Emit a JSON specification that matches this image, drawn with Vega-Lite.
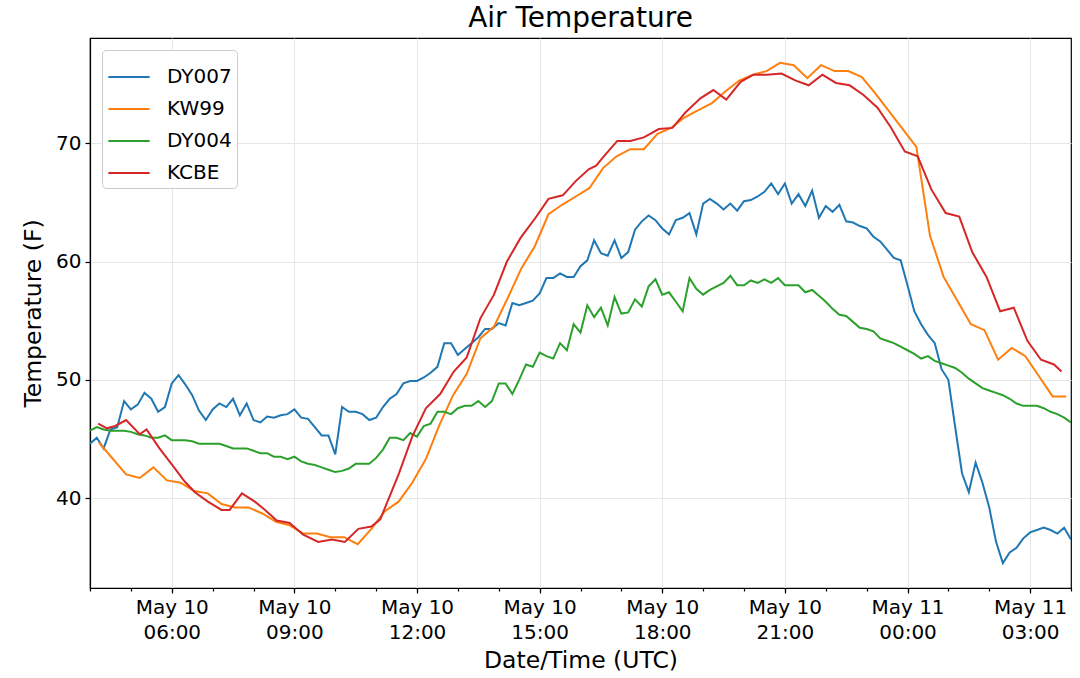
{
  "$schema": "https://vega.github.io/schema/vega-lite/v6.json",
  "width": 981,
  "height": 550,
  "autosize": {"type": "none"},
  "padding": {"left": 90, "top": 38, "right": 9, "bottom": 90},
  "background": "white",
  "title": {"text": "Air Temperature", "fontSize": 28, "font": "DejaVu Sans", "fontWeight": "normal", "color": "black", "anchor": "middle", "offset": 5},
  "config": {
    "view": {"stroke": "black", "strokeWidth": 1.2},
    "axis": {
      "labelFont": "DejaVu Sans", "titleFont": "DejaVu Sans",
      "labelFontSize": 20, "titleFontSize": 23.5, "titleFontWeight": "normal",
      "labelColor": "black", "titleColor": "black",
      "domainColor": "black", "domainWidth": 1.2, "tickColor": "black", "tickWidth": 1.2,
      "gridColor": "#e6e6e6", "gridWidth": 1
    }
  },
  "data": {
    "values": [
      {"station": "DY007", "time": "2019-05-10T04:00:00Z", "temp": 44.6},
      {"station": "DY007", "time": "2019-05-10T04:10:00Z", "temp": 45.1},
      {"station": "DY007", "time": "2019-05-10T04:20:00Z", "temp": 44.2},
      {"station": "DY007", "time": "2019-05-10T04:30:00Z", "temp": 45.8},
      {"station": "DY007", "time": "2019-05-10T04:40:00Z", "temp": 46.0},
      {"station": "DY007", "time": "2019-05-10T04:50:00Z", "temp": 48.2},
      {"station": "DY007", "time": "2019-05-10T05:00:00Z", "temp": 47.5},
      {"station": "DY007", "time": "2019-05-10T05:10:00Z", "temp": 47.9},
      {"station": "DY007", "time": "2019-05-10T05:20:00Z", "temp": 48.9},
      {"station": "DY007", "time": "2019-05-10T05:30:00Z", "temp": 48.4},
      {"station": "DY007", "time": "2019-05-10T05:40:00Z", "temp": 47.3},
      {"station": "DY007", "time": "2019-05-10T05:50:00Z", "temp": 47.7},
      {"station": "DY007", "time": "2019-05-10T06:00:00Z", "temp": 49.7},
      {"station": "DY007", "time": "2019-05-10T06:10:00Z", "temp": 50.4},
      {"station": "DY007", "time": "2019-05-10T06:20:00Z", "temp": 49.6},
      {"station": "DY007", "time": "2019-05-10T06:30:00Z", "temp": 48.7},
      {"station": "DY007", "time": "2019-05-10T06:40:00Z", "temp": 47.4},
      {"station": "DY007", "time": "2019-05-10T06:50:00Z", "temp": 46.6},
      {"station": "DY007", "time": "2019-05-10T07:00:00Z", "temp": 47.5},
      {"station": "DY007", "time": "2019-05-10T07:10:00Z", "temp": 48.0},
      {"station": "DY007", "time": "2019-05-10T07:20:00Z", "temp": 47.7},
      {"station": "DY007", "time": "2019-05-10T07:30:00Z", "temp": 48.4},
      {"station": "DY007", "time": "2019-05-10T07:40:00Z", "temp": 47.0},
      {"station": "DY007", "time": "2019-05-10T07:50:00Z", "temp": 48.0},
      {"station": "DY007", "time": "2019-05-10T08:00:00Z", "temp": 46.6},
      {"station": "DY007", "time": "2019-05-10T08:10:00Z", "temp": 46.4},
      {"station": "DY007", "time": "2019-05-10T08:20:00Z", "temp": 46.9},
      {"station": "DY007", "time": "2019-05-10T08:30:00Z", "temp": 46.8},
      {"station": "DY007", "time": "2019-05-10T08:40:00Z", "temp": 47.0},
      {"station": "DY007", "time": "2019-05-10T08:50:00Z", "temp": 47.1},
      {"station": "DY007", "time": "2019-05-10T09:00:00Z", "temp": 47.5},
      {"station": "DY007", "time": "2019-05-10T09:10:00Z", "temp": 46.8},
      {"station": "DY007", "time": "2019-05-10T09:20:00Z", "temp": 46.7},
      {"station": "DY007", "time": "2019-05-10T09:30:00Z", "temp": 46.0},
      {"station": "DY007", "time": "2019-05-10T09:40:00Z", "temp": 45.3},
      {"station": "DY007", "time": "2019-05-10T09:50:00Z", "temp": 45.3},
      {"station": "DY007", "time": "2019-05-10T10:00:00Z", "temp": 43.7},
      {"station": "DY007", "time": "2019-05-10T10:10:00Z", "temp": 47.7},
      {"station": "DY007", "time": "2019-05-10T10:20:00Z", "temp": 47.3},
      {"station": "DY007", "time": "2019-05-10T10:30:00Z", "temp": 47.3},
      {"station": "DY007", "time": "2019-05-10T10:40:00Z", "temp": 47.1},
      {"station": "DY007", "time": "2019-05-10T10:50:00Z", "temp": 46.6},
      {"station": "DY007", "time": "2019-05-10T11:00:00Z", "temp": 46.8},
      {"station": "DY007", "time": "2019-05-10T11:10:00Z", "temp": 47.7},
      {"station": "DY007", "time": "2019-05-10T11:20:00Z", "temp": 48.4},
      {"station": "DY007", "time": "2019-05-10T11:30:00Z", "temp": 48.8},
      {"station": "DY007", "time": "2019-05-10T11:40:00Z", "temp": 49.7},
      {"station": "DY007", "time": "2019-05-10T11:50:00Z", "temp": 49.9},
      {"station": "DY007", "time": "2019-05-10T12:00:00Z", "temp": 49.9},
      {"station": "DY007", "time": "2019-05-10T12:10:00Z", "temp": 50.2},
      {"station": "DY007", "time": "2019-05-10T12:20:00Z", "temp": 50.6},
      {"station": "DY007", "time": "2019-05-10T12:30:00Z", "temp": 51.1},
      {"station": "DY007", "time": "2019-05-10T12:40:00Z", "temp": 53.1},
      {"station": "DY007", "time": "2019-05-10T12:50:00Z", "temp": 53.1},
      {"station": "DY007", "time": "2019-05-10T13:00:00Z", "temp": 52.1},
      {"station": "DY007", "time": "2019-05-10T13:10:00Z", "temp": 52.6},
      {"station": "DY007", "time": "2019-05-10T13:20:00Z", "temp": 53.1},
      {"station": "DY007", "time": "2019-05-10T13:30:00Z", "temp": 53.6},
      {"station": "DY007", "time": "2019-05-10T13:40:00Z", "temp": 54.3},
      {"station": "DY007", "time": "2019-05-10T13:50:00Z", "temp": 54.3},
      {"station": "DY007", "time": "2019-05-10T14:00:00Z", "temp": 54.8},
      {"station": "DY007", "time": "2019-05-10T14:10:00Z", "temp": 54.6},
      {"station": "DY007", "time": "2019-05-10T14:20:00Z", "temp": 56.5},
      {"station": "DY007", "time": "2019-05-10T14:30:00Z", "temp": 56.3},
      {"station": "DY007", "time": "2019-05-10T14:40:00Z", "temp": 56.5},
      {"station": "DY007", "time": "2019-05-10T14:50:00Z", "temp": 56.7},
      {"station": "DY007", "time": "2019-05-10T15:00:00Z", "temp": 57.3},
      {"station": "DY007", "time": "2019-05-10T15:10:00Z", "temp": 58.6},
      {"station": "DY007", "time": "2019-05-10T15:20:00Z", "temp": 58.6},
      {"station": "DY007", "time": "2019-05-10T15:30:00Z", "temp": 59.0},
      {"station": "DY007", "time": "2019-05-10T15:40:00Z", "temp": 58.7},
      {"station": "DY007", "time": "2019-05-10T15:50:00Z", "temp": 58.7},
      {"station": "DY007", "time": "2019-05-10T16:00:00Z", "temp": 59.6},
      {"station": "DY007", "time": "2019-05-10T16:10:00Z", "temp": 60.1},
      {"station": "DY007", "time": "2019-05-10T16:20:00Z", "temp": 61.8},
      {"station": "DY007", "time": "2019-05-10T16:30:00Z", "temp": 60.7},
      {"station": "DY007", "time": "2019-05-10T16:40:00Z", "temp": 60.5},
      {"station": "DY007", "time": "2019-05-10T16:50:00Z", "temp": 61.8},
      {"station": "DY007", "time": "2019-05-10T17:00:00Z", "temp": 60.3},
      {"station": "DY007", "time": "2019-05-10T17:10:00Z", "temp": 60.8},
      {"station": "DY007", "time": "2019-05-10T17:20:00Z", "temp": 62.7},
      {"station": "DY007", "time": "2019-05-10T17:30:00Z", "temp": 63.4},
      {"station": "DY007", "time": "2019-05-10T17:40:00Z", "temp": 63.9},
      {"station": "DY007", "time": "2019-05-10T17:50:00Z", "temp": 63.5},
      {"station": "DY007", "time": "2019-05-10T18:00:00Z", "temp": 62.8},
      {"station": "DY007", "time": "2019-05-10T18:10:00Z", "temp": 62.3},
      {"station": "DY007", "time": "2019-05-10T18:20:00Z", "temp": 63.5},
      {"station": "DY007", "time": "2019-05-10T18:30:00Z", "temp": 63.7},
      {"station": "DY007", "time": "2019-05-10T18:40:00Z", "temp": 64.1},
      {"station": "DY007", "time": "2019-05-10T18:50:00Z", "temp": 62.3},
      {"station": "DY007", "time": "2019-05-10T19:00:00Z", "temp": 64.9},
      {"station": "DY007", "time": "2019-05-10T19:10:00Z", "temp": 65.3},
      {"station": "DY007", "time": "2019-05-10T19:20:00Z", "temp": 64.9},
      {"station": "DY007", "time": "2019-05-10T19:30:00Z", "temp": 64.4},
      {"station": "DY007", "time": "2019-05-10T19:40:00Z", "temp": 64.9},
      {"station": "DY007", "time": "2019-05-10T19:50:00Z", "temp": 64.3},
      {"station": "DY007", "time": "2019-05-10T20:00:00Z", "temp": 65.1},
      {"station": "DY007", "time": "2019-05-10T20:10:00Z", "temp": 65.2},
      {"station": "DY007", "time": "2019-05-10T20:20:00Z", "temp": 65.5},
      {"station": "DY007", "time": "2019-05-10T20:30:00Z", "temp": 65.9},
      {"station": "DY007", "time": "2019-05-10T20:40:00Z", "temp": 66.6},
      {"station": "DY007", "time": "2019-05-10T20:50:00Z", "temp": 65.7},
      {"station": "DY007", "time": "2019-05-10T21:00:00Z", "temp": 66.6},
      {"station": "DY007", "time": "2019-05-10T21:10:00Z", "temp": 64.9},
      {"station": "DY007", "time": "2019-05-10T21:20:00Z", "temp": 65.7},
      {"station": "DY007", "time": "2019-05-10T21:30:00Z", "temp": 64.7},
      {"station": "DY007", "time": "2019-05-10T21:40:00Z", "temp": 66.0},
      {"station": "DY007", "time": "2019-05-10T21:50:00Z", "temp": 63.7},
      {"station": "DY007", "time": "2019-05-10T22:00:00Z", "temp": 64.7},
      {"station": "DY007", "time": "2019-05-10T22:10:00Z", "temp": 64.2},
      {"station": "DY007", "time": "2019-05-10T22:20:00Z", "temp": 64.8},
      {"station": "DY007", "time": "2019-05-10T22:30:00Z", "temp": 63.4},
      {"station": "DY007", "time": "2019-05-10T22:40:00Z", "temp": 63.3},
      {"station": "DY007", "time": "2019-05-10T22:50:00Z", "temp": 63.0},
      {"station": "DY007", "time": "2019-05-10T23:00:00Z", "temp": 62.8},
      {"station": "DY007", "time": "2019-05-10T23:10:00Z", "temp": 62.1},
      {"station": "DY007", "time": "2019-05-10T23:20:00Z", "temp": 61.7},
      {"station": "DY007", "time": "2019-05-10T23:30:00Z", "temp": 61.0},
      {"station": "DY007", "time": "2019-05-10T23:40:00Z", "temp": 60.3},
      {"station": "DY007", "time": "2019-05-10T23:50:00Z", "temp": 60.1},
      {"station": "DY007", "time": "2019-05-11T00:00:00Z", "temp": 58.0},
      {"station": "DY007", "time": "2019-05-11T00:10:00Z", "temp": 55.8},
      {"station": "DY007", "time": "2019-05-11T00:20:00Z", "temp": 54.7},
      {"station": "DY007", "time": "2019-05-11T00:30:00Z", "temp": 53.8},
      {"station": "DY007", "time": "2019-05-11T00:40:00Z", "temp": 53.1},
      {"station": "DY007", "time": "2019-05-11T00:50:00Z", "temp": 50.9},
      {"station": "DY007", "time": "2019-05-11T01:00:00Z", "temp": 50.0},
      {"station": "DY007", "time": "2019-05-11T01:10:00Z", "temp": 46.0},
      {"station": "DY007", "time": "2019-05-11T01:20:00Z", "temp": 42.1},
      {"station": "DY007", "time": "2019-05-11T01:30:00Z", "temp": 40.5},
      {"station": "DY007", "time": "2019-05-11T01:40:00Z", "temp": 43.0},
      {"station": "DY007", "time": "2019-05-11T01:50:00Z", "temp": 41.3},
      {"station": "DY007", "time": "2019-05-11T02:00:00Z", "temp": 39.2},
      {"station": "DY007", "time": "2019-05-11T02:10:00Z", "temp": 36.3},
      {"station": "DY007", "time": "2019-05-11T02:20:00Z", "temp": 34.5},
      {"station": "DY007", "time": "2019-05-11T02:30:00Z", "temp": 35.4},
      {"station": "DY007", "time": "2019-05-11T02:40:00Z", "temp": 35.8},
      {"station": "DY007", "time": "2019-05-11T02:50:00Z", "temp": 36.6},
      {"station": "DY007", "time": "2019-05-11T03:00:00Z", "temp": 37.1},
      {"station": "DY007", "time": "2019-05-11T03:10:00Z", "temp": 37.3},
      {"station": "DY007", "time": "2019-05-11T03:20:00Z", "temp": 37.5},
      {"station": "DY007", "time": "2019-05-11T03:30:00Z", "temp": 37.3},
      {"station": "DY007", "time": "2019-05-11T03:40:00Z", "temp": 37.0},
      {"station": "DY007", "time": "2019-05-11T03:50:00Z", "temp": 37.5},
      {"station": "DY007", "time": "2019-05-11T04:00:00Z", "temp": 36.5},

      {"station": "KW99", "time": "2019-05-10T04:13:00Z", "temp": 44.7},
      {"station": "KW99", "time": "2019-05-10T04:53:00Z", "temp": 42.0},
      {"station": "KW99", "time": "2019-05-10T05:13:00Z", "temp": 41.7},
      {"station": "KW99", "time": "2019-05-10T05:33:00Z", "temp": 42.6},
      {"station": "KW99", "time": "2019-05-10T05:53:00Z", "temp": 41.5},
      {"station": "KW99", "time": "2019-05-10T06:13:00Z", "temp": 41.3},
      {"station": "KW99", "time": "2019-05-10T06:33:00Z", "temp": 40.6},
      {"station": "KW99", "time": "2019-05-10T06:53:00Z", "temp": 40.4},
      {"station": "KW99", "time": "2019-05-10T07:13:00Z", "temp": 39.5},
      {"station": "KW99", "time": "2019-05-10T07:33:00Z", "temp": 39.2},
      {"station": "KW99", "time": "2019-05-10T07:53:00Z", "temp": 39.2},
      {"station": "KW99", "time": "2019-05-10T08:13:00Z", "temp": 38.7},
      {"station": "KW99", "time": "2019-05-10T08:33:00Z", "temp": 38.0},
      {"station": "KW99", "time": "2019-05-10T08:53:00Z", "temp": 37.7},
      {"station": "KW99", "time": "2019-05-10T09:13:00Z", "temp": 37.0},
      {"station": "KW99", "time": "2019-05-10T09:33:00Z", "temp": 37.0},
      {"station": "KW99", "time": "2019-05-10T09:53:00Z", "temp": 36.7},
      {"station": "KW99", "time": "2019-05-10T10:13:00Z", "temp": 36.7},
      {"station": "KW99", "time": "2019-05-10T10:33:00Z", "temp": 36.1},
      {"station": "KW99", "time": "2019-05-10T10:53:00Z", "temp": 37.4},
      {"station": "KW99", "time": "2019-05-10T11:13:00Z", "temp": 38.9},
      {"station": "KW99", "time": "2019-05-10T11:33:00Z", "temp": 39.7},
      {"station": "KW99", "time": "2019-05-10T11:53:00Z", "temp": 41.3},
      {"station": "KW99", "time": "2019-05-10T12:13:00Z", "temp": 43.3},
      {"station": "KW99", "time": "2019-05-10T12:33:00Z", "temp": 46.2},
      {"station": "KW99", "time": "2019-05-10T12:53:00Z", "temp": 48.7},
      {"station": "KW99", "time": "2019-05-10T13:13:00Z", "temp": 50.5},
      {"station": "KW99", "time": "2019-05-10T13:33:00Z", "temp": 53.5},
      {"station": "KW99", "time": "2019-05-10T13:53:00Z", "temp": 54.5},
      {"station": "KW99", "time": "2019-05-10T14:13:00Z", "temp": 56.9},
      {"station": "KW99", "time": "2019-05-10T14:33:00Z", "temp": 59.4},
      {"station": "KW99", "time": "2019-05-10T14:53:00Z", "temp": 61.3},
      {"station": "KW99", "time": "2019-05-10T15:13:00Z", "temp": 64.0},
      {"station": "KW99", "time": "2019-05-10T15:33:00Z", "temp": 64.8},
      {"station": "KW99", "time": "2019-05-10T15:53:00Z", "temp": 65.5},
      {"station": "KW99", "time": "2019-05-10T16:13:00Z", "temp": 66.2},
      {"station": "KW99", "time": "2019-05-10T16:33:00Z", "temp": 67.9},
      {"station": "KW99", "time": "2019-05-10T16:53:00Z", "temp": 68.9},
      {"station": "KW99", "time": "2019-05-10T17:13:00Z", "temp": 69.5},
      {"station": "KW99", "time": "2019-05-10T17:33:00Z", "temp": 69.5},
      {"station": "KW99", "time": "2019-05-10T17:53:00Z", "temp": 70.8},
      {"station": "KW99", "time": "2019-05-10T18:13:00Z", "temp": 71.3},
      {"station": "KW99", "time": "2019-05-10T18:33:00Z", "temp": 72.2},
      {"station": "KW99", "time": "2019-05-10T18:53:00Z", "temp": 72.8},
      {"station": "KW99", "time": "2019-05-10T19:13:00Z", "temp": 73.4},
      {"station": "KW99", "time": "2019-05-10T19:33:00Z", "temp": 74.4},
      {"station": "KW99", "time": "2019-05-10T19:53:00Z", "temp": 75.3},
      {"station": "KW99", "time": "2019-05-10T20:13:00Z", "temp": 75.8},
      {"station": "KW99", "time": "2019-05-10T20:33:00Z", "temp": 76.1},
      {"station": "KW99", "time": "2019-05-10T20:53:00Z", "temp": 76.8},
      {"station": "KW99", "time": "2019-05-10T21:13:00Z", "temp": 76.6},
      {"station": "KW99", "time": "2019-05-10T21:33:00Z", "temp": 75.5},
      {"station": "KW99", "time": "2019-05-10T21:53:00Z", "temp": 76.6},
      {"station": "KW99", "time": "2019-05-10T22:13:00Z", "temp": 76.1},
      {"station": "KW99", "time": "2019-05-10T22:33:00Z", "temp": 76.1},
      {"station": "KW99", "time": "2019-05-10T22:53:00Z", "temp": 75.6},
      {"station": "KW99", "time": "2019-05-10T23:13:00Z", "temp": 74.2},
      {"station": "KW99", "time": "2019-05-10T23:33:00Z", "temp": 72.7},
      {"station": "KW99", "time": "2019-05-10T23:53:00Z", "temp": 71.2},
      {"station": "KW99", "time": "2019-05-11T00:13:00Z", "temp": 69.7},
      {"station": "KW99", "time": "2019-05-11T00:33:00Z", "temp": 62.2},
      {"station": "KW99", "time": "2019-05-11T00:53:00Z", "temp": 58.7},
      {"station": "KW99", "time": "2019-05-11T01:13:00Z", "temp": 56.7},
      {"station": "KW99", "time": "2019-05-11T01:33:00Z", "temp": 54.7},
      {"station": "KW99", "time": "2019-05-11T01:53:00Z", "temp": 54.2},
      {"station": "KW99", "time": "2019-05-11T02:13:00Z", "temp": 51.7},
      {"station": "KW99", "time": "2019-05-11T02:33:00Z", "temp": 52.7},
      {"station": "KW99", "time": "2019-05-11T02:53:00Z", "temp": 52.0},
      {"station": "KW99", "time": "2019-05-11T03:13:00Z", "temp": 50.3},
      {"station": "KW99", "time": "2019-05-11T03:33:00Z", "temp": 48.6},
      {"station": "KW99", "time": "2019-05-11T03:53:00Z", "temp": 48.6},

      {"station": "DY004", "time": "2019-05-10T04:00:00Z", "temp": 45.7},
      {"station": "DY004", "time": "2019-05-10T04:10:00Z", "temp": 46.0},
      {"station": "DY004", "time": "2019-05-10T04:20:00Z", "temp": 45.8},
      {"station": "DY004", "time": "2019-05-10T04:30:00Z", "temp": 45.7},
      {"station": "DY004", "time": "2019-05-10T04:40:00Z", "temp": 45.7},
      {"station": "DY004", "time": "2019-05-10T04:50:00Z", "temp": 45.7},
      {"station": "DY004", "time": "2019-05-10T05:00:00Z", "temp": 45.6},
      {"station": "DY004", "time": "2019-05-10T05:10:00Z", "temp": 45.4},
      {"station": "DY004", "time": "2019-05-10T05:20:00Z", "temp": 45.3},
      {"station": "DY004", "time": "2019-05-10T05:30:00Z", "temp": 45.1},
      {"station": "DY004", "time": "2019-05-10T05:40:00Z", "temp": 45.1},
      {"station": "DY004", "time": "2019-05-10T05:50:00Z", "temp": 45.3},
      {"station": "DY004", "time": "2019-05-10T06:00:00Z", "temp": 44.9},
      {"station": "DY004", "time": "2019-05-10T06:10:00Z", "temp": 44.9},
      {"station": "DY004", "time": "2019-05-10T06:20:00Z", "temp": 44.9},
      {"station": "DY004", "time": "2019-05-10T06:30:00Z", "temp": 44.8},
      {"station": "DY004", "time": "2019-05-10T06:40:00Z", "temp": 44.6},
      {"station": "DY004", "time": "2019-05-10T06:50:00Z", "temp": 44.6},
      {"station": "DY004", "time": "2019-05-10T07:00:00Z", "temp": 44.6},
      {"station": "DY004", "time": "2019-05-10T07:10:00Z", "temp": 44.6},
      {"station": "DY004", "time": "2019-05-10T07:20:00Z", "temp": 44.4},
      {"station": "DY004", "time": "2019-05-10T07:30:00Z", "temp": 44.2},
      {"station": "DY004", "time": "2019-05-10T07:40:00Z", "temp": 44.2},
      {"station": "DY004", "time": "2019-05-10T07:50:00Z", "temp": 44.2},
      {"station": "DY004", "time": "2019-05-10T08:00:00Z", "temp": 44.0},
      {"station": "DY004", "time": "2019-05-10T08:10:00Z", "temp": 43.8},
      {"station": "DY004", "time": "2019-05-10T08:20:00Z", "temp": 43.8},
      {"station": "DY004", "time": "2019-05-10T08:30:00Z", "temp": 43.5},
      {"station": "DY004", "time": "2019-05-10T08:40:00Z", "temp": 43.5},
      {"station": "DY004", "time": "2019-05-10T08:50:00Z", "temp": 43.3},
      {"station": "DY004", "time": "2019-05-10T09:00:00Z", "temp": 43.5},
      {"station": "DY004", "time": "2019-05-10T09:10:00Z", "temp": 43.1},
      {"station": "DY004", "time": "2019-05-10T09:20:00Z", "temp": 42.9},
      {"station": "DY004", "time": "2019-05-10T09:30:00Z", "temp": 42.8},
      {"station": "DY004", "time": "2019-05-10T09:40:00Z", "temp": 42.6},
      {"station": "DY004", "time": "2019-05-10T09:50:00Z", "temp": 42.4},
      {"station": "DY004", "time": "2019-05-10T10:00:00Z", "temp": 42.2},
      {"station": "DY004", "time": "2019-05-10T10:10:00Z", "temp": 42.3},
      {"station": "DY004", "time": "2019-05-10T10:20:00Z", "temp": 42.5},
      {"station": "DY004", "time": "2019-05-10T10:30:00Z", "temp": 42.9},
      {"station": "DY004", "time": "2019-05-10T10:40:00Z", "temp": 42.9},
      {"station": "DY004", "time": "2019-05-10T10:50:00Z", "temp": 42.9},
      {"station": "DY004", "time": "2019-05-10T11:00:00Z", "temp": 43.4},
      {"station": "DY004", "time": "2019-05-10T11:10:00Z", "temp": 44.1},
      {"station": "DY004", "time": "2019-05-10T11:20:00Z", "temp": 45.1},
      {"station": "DY004", "time": "2019-05-10T11:30:00Z", "temp": 45.1},
      {"station": "DY004", "time": "2019-05-10T11:40:00Z", "temp": 44.9},
      {"station": "DY004", "time": "2019-05-10T11:50:00Z", "temp": 45.5},
      {"station": "DY004", "time": "2019-05-10T12:00:00Z", "temp": 45.2},
      {"station": "DY004", "time": "2019-05-10T12:10:00Z", "temp": 46.1},
      {"station": "DY004", "time": "2019-05-10T12:20:00Z", "temp": 46.3},
      {"station": "DY004", "time": "2019-05-10T12:30:00Z", "temp": 47.3},
      {"station": "DY004", "time": "2019-05-10T12:40:00Z", "temp": 47.3},
      {"station": "DY004", "time": "2019-05-10T12:50:00Z", "temp": 47.1},
      {"station": "DY004", "time": "2019-05-10T13:00:00Z", "temp": 47.6},
      {"station": "DY004", "time": "2019-05-10T13:10:00Z", "temp": 47.8},
      {"station": "DY004", "time": "2019-05-10T13:20:00Z", "temp": 47.8},
      {"station": "DY004", "time": "2019-05-10T13:30:00Z", "temp": 48.2},
      {"station": "DY004", "time": "2019-05-10T13:40:00Z", "temp": 47.7},
      {"station": "DY004", "time": "2019-05-10T13:50:00Z", "temp": 48.2},
      {"station": "DY004", "time": "2019-05-10T14:00:00Z", "temp": 49.7},
      {"station": "DY004", "time": "2019-05-10T14:10:00Z", "temp": 49.7},
      {"station": "DY004", "time": "2019-05-10T14:20:00Z", "temp": 48.8},
      {"station": "DY004", "time": "2019-05-10T14:30:00Z", "temp": 50.0},
      {"station": "DY004", "time": "2019-05-10T14:40:00Z", "temp": 51.3},
      {"station": "DY004", "time": "2019-05-10T14:50:00Z", "temp": 51.1},
      {"station": "DY004", "time": "2019-05-10T15:00:00Z", "temp": 52.3},
      {"station": "DY004", "time": "2019-05-10T15:10:00Z", "temp": 52.0},
      {"station": "DY004", "time": "2019-05-10T15:20:00Z", "temp": 51.8},
      {"station": "DY004", "time": "2019-05-10T15:30:00Z", "temp": 53.1},
      {"station": "DY004", "time": "2019-05-10T15:40:00Z", "temp": 52.5},
      {"station": "DY004", "time": "2019-05-10T15:50:00Z", "temp": 54.7},
      {"station": "DY004", "time": "2019-05-10T16:00:00Z", "temp": 54.0},
      {"station": "DY004", "time": "2019-05-10T16:10:00Z", "temp": 56.3},
      {"station": "DY004", "time": "2019-05-10T16:20:00Z", "temp": 55.3},
      {"station": "DY004", "time": "2019-05-10T16:30:00Z", "temp": 56.1},
      {"station": "DY004", "time": "2019-05-10T16:40:00Z", "temp": 54.6},
      {"station": "DY004", "time": "2019-05-10T16:50:00Z", "temp": 57.0},
      {"station": "DY004", "time": "2019-05-10T17:00:00Z", "temp": 55.6},
      {"station": "DY004", "time": "2019-05-10T17:10:00Z", "temp": 55.7},
      {"station": "DY004", "time": "2019-05-10T17:20:00Z", "temp": 56.8},
      {"station": "DY004", "time": "2019-05-10T17:30:00Z", "temp": 56.2},
      {"station": "DY004", "time": "2019-05-10T17:40:00Z", "temp": 57.9},
      {"station": "DY004", "time": "2019-05-10T17:50:00Z", "temp": 58.5},
      {"station": "DY004", "time": "2019-05-10T18:00:00Z", "temp": 57.2},
      {"station": "DY004", "time": "2019-05-10T18:10:00Z", "temp": 57.4},
      {"station": "DY004", "time": "2019-05-10T18:20:00Z", "temp": 56.6},
      {"station": "DY004", "time": "2019-05-10T18:30:00Z", "temp": 55.8},
      {"station": "DY004", "time": "2019-05-10T18:40:00Z", "temp": 58.6},
      {"station": "DY004", "time": "2019-05-10T18:50:00Z", "temp": 57.7},
      {"station": "DY004", "time": "2019-05-10T19:00:00Z", "temp": 57.2},
      {"station": "DY004", "time": "2019-05-10T19:10:00Z", "temp": 57.6},
      {"station": "DY004", "time": "2019-05-10T19:20:00Z", "temp": 57.9},
      {"station": "DY004", "time": "2019-05-10T19:30:00Z", "temp": 58.2},
      {"station": "DY004", "time": "2019-05-10T19:40:00Z", "temp": 58.8},
      {"station": "DY004", "time": "2019-05-10T19:50:00Z", "temp": 58.0},
      {"station": "DY004", "time": "2019-05-10T20:00:00Z", "temp": 58.0},
      {"station": "DY004", "time": "2019-05-10T20:10:00Z", "temp": 58.4},
      {"station": "DY004", "time": "2019-05-10T20:20:00Z", "temp": 58.2},
      {"station": "DY004", "time": "2019-05-10T20:30:00Z", "temp": 58.5},
      {"station": "DY004", "time": "2019-05-10T20:40:00Z", "temp": 58.2},
      {"station": "DY004", "time": "2019-05-10T20:50:00Z", "temp": 58.6},
      {"station": "DY004", "time": "2019-05-10T21:00:00Z", "temp": 58.0},
      {"station": "DY004", "time": "2019-05-10T21:10:00Z", "temp": 58.0},
      {"station": "DY004", "time": "2019-05-10T21:20:00Z", "temp": 58.0},
      {"station": "DY004", "time": "2019-05-10T21:30:00Z", "temp": 57.4},
      {"station": "DY004", "time": "2019-05-10T21:40:00Z", "temp": 57.6},
      {"station": "DY004", "time": "2019-05-10T21:50:00Z", "temp": 57.1},
      {"station": "DY004", "time": "2019-05-10T22:00:00Z", "temp": 56.6},
      {"station": "DY004", "time": "2019-05-10T22:10:00Z", "temp": 56.0},
      {"station": "DY004", "time": "2019-05-10T22:20:00Z", "temp": 55.5},
      {"station": "DY004", "time": "2019-05-10T22:30:00Z", "temp": 55.4},
      {"station": "DY004", "time": "2019-05-10T22:40:00Z", "temp": 54.9},
      {"station": "DY004", "time": "2019-05-10T22:50:00Z", "temp": 54.4},
      {"station": "DY004", "time": "2019-05-10T23:00:00Z", "temp": 54.3},
      {"station": "DY004", "time": "2019-05-10T23:10:00Z", "temp": 54.1},
      {"station": "DY004", "time": "2019-05-10T23:20:00Z", "temp": 53.5},
      {"station": "DY004", "time": "2019-05-10T23:30:00Z", "temp": 53.3},
      {"station": "DY004", "time": "2019-05-10T23:40:00Z", "temp": 53.1},
      {"station": "DY004", "time": "2019-05-10T23:50:00Z", "temp": 52.8},
      {"station": "DY004", "time": "2019-05-11T00:00:00Z", "temp": 52.5},
      {"station": "DY004", "time": "2019-05-11T00:10:00Z", "temp": 52.2},
      {"station": "DY004", "time": "2019-05-11T00:20:00Z", "temp": 51.8},
      {"station": "DY004", "time": "2019-05-11T00:30:00Z", "temp": 52.0},
      {"station": "DY004", "time": "2019-05-11T00:40:00Z", "temp": 51.6},
      {"station": "DY004", "time": "2019-05-11T00:50:00Z", "temp": 51.4},
      {"station": "DY004", "time": "2019-05-11T01:00:00Z", "temp": 51.2},
      {"station": "DY004", "time": "2019-05-11T01:10:00Z", "temp": 51.0},
      {"station": "DY004", "time": "2019-05-11T01:20:00Z", "temp": 50.6},
      {"station": "DY004", "time": "2019-05-11T01:30:00Z", "temp": 50.1},
      {"station": "DY004", "time": "2019-05-11T01:40:00Z", "temp": 49.7},
      {"station": "DY004", "time": "2019-05-11T01:50:00Z", "temp": 49.3},
      {"station": "DY004", "time": "2019-05-11T02:00:00Z", "temp": 49.1},
      {"station": "DY004", "time": "2019-05-11T02:10:00Z", "temp": 48.9},
      {"station": "DY004", "time": "2019-05-11T02:20:00Z", "temp": 48.7},
      {"station": "DY004", "time": "2019-05-11T02:30:00Z", "temp": 48.4},
      {"station": "DY004", "time": "2019-05-11T02:40:00Z", "temp": 48.0},
      {"station": "DY004", "time": "2019-05-11T02:50:00Z", "temp": 47.8},
      {"station": "DY004", "time": "2019-05-11T03:00:00Z", "temp": 47.8},
      {"station": "DY004", "time": "2019-05-11T03:10:00Z", "temp": 47.8},
      {"station": "DY004", "time": "2019-05-11T03:20:00Z", "temp": 47.6},
      {"station": "DY004", "time": "2019-05-11T03:30:00Z", "temp": 47.3},
      {"station": "DY004", "time": "2019-05-11T03:40:00Z", "temp": 47.1},
      {"station": "DY004", "time": "2019-05-11T03:50:00Z", "temp": 46.8},
      {"station": "DY004", "time": "2019-05-11T04:00:00Z", "temp": 46.4},

      {"station": "KCBE", "time": "2019-05-10T04:12:00Z", "temp": 46.3},
      {"station": "KCBE", "time": "2019-05-10T04:25:00Z", "temp": 45.9},
      {"station": "KCBE", "time": "2019-05-10T04:37:00Z", "temp": 46.1},
      {"station": "KCBE", "time": "2019-05-10T04:53:00Z", "temp": 46.6},
      {"station": "KCBE", "time": "2019-05-10T05:13:00Z", "temp": 45.4},
      {"station": "KCBE", "time": "2019-05-10T05:23:00Z", "temp": 45.8},
      {"station": "KCBE", "time": "2019-05-10T05:42:00Z", "temp": 44.2},
      {"station": "KCBE", "time": "2019-05-10T06:02:00Z", "temp": 42.7},
      {"station": "KCBE", "time": "2019-05-10T06:19:00Z", "temp": 41.4},
      {"station": "KCBE", "time": "2019-05-10T06:34:00Z", "temp": 40.5},
      {"station": "KCBE", "time": "2019-05-10T06:53:00Z", "temp": 39.7},
      {"station": "KCBE", "time": "2019-05-10T07:13:00Z", "temp": 39.0},
      {"station": "KCBE", "time": "2019-05-10T07:25:00Z", "temp": 39.0},
      {"station": "KCBE", "time": "2019-05-10T07:43:00Z", "temp": 40.4},
      {"station": "KCBE", "time": "2019-05-10T08:02:00Z", "temp": 39.7},
      {"station": "KCBE", "time": "2019-05-10T08:17:00Z", "temp": 39.0},
      {"station": "KCBE", "time": "2019-05-10T08:34:00Z", "temp": 38.1},
      {"station": "KCBE", "time": "2019-05-10T08:53:00Z", "temp": 37.9},
      {"station": "KCBE", "time": "2019-05-10T09:13:00Z", "temp": 36.9},
      {"station": "KCBE", "time": "2019-05-10T09:35:00Z", "temp": 36.3},
      {"station": "KCBE", "time": "2019-05-10T09:55:00Z", "temp": 36.5},
      {"station": "KCBE", "time": "2019-05-10T10:14:00Z", "temp": 36.3},
      {"station": "KCBE", "time": "2019-05-10T10:34:00Z", "temp": 37.4},
      {"station": "KCBE", "time": "2019-05-10T10:53:00Z", "temp": 37.6},
      {"station": "KCBE", "time": "2019-05-10T11:06:00Z", "temp": 38.2},
      {"station": "KCBE", "time": "2019-05-10T11:33:00Z", "temp": 42.0},
      {"station": "KCBE", "time": "2019-05-10T11:53:00Z", "temp": 45.2},
      {"station": "KCBE", "time": "2019-05-10T12:13:00Z", "temp": 47.6},
      {"station": "KCBE", "time": "2019-05-10T12:34:00Z", "temp": 48.8},
      {"station": "KCBE", "time": "2019-05-10T12:54:00Z", "temp": 50.7},
      {"station": "KCBE", "time": "2019-05-10T13:13:00Z", "temp": 51.9},
      {"station": "KCBE", "time": "2019-05-10T13:33:00Z", "temp": 55.2},
      {"station": "KCBE", "time": "2019-05-10T13:53:00Z", "temp": 57.2},
      {"station": "KCBE", "time": "2019-05-10T14:12:00Z", "temp": 60.0},
      {"station": "KCBE", "time": "2019-05-10T14:32:00Z", "temp": 62.0},
      {"station": "KCBE", "time": "2019-05-10T14:54:00Z", "temp": 63.7},
      {"station": "KCBE", "time": "2019-05-10T15:13:00Z", "temp": 65.3},
      {"station": "KCBE", "time": "2019-05-10T15:34:00Z", "temp": 65.6},
      {"station": "KCBE", "time": "2019-05-10T15:53:00Z", "temp": 66.8},
      {"station": "KCBE", "time": "2019-05-10T16:12:00Z", "temp": 67.8},
      {"station": "KCBE", "time": "2019-05-10T16:23:00Z", "temp": 68.1},
      {"station": "KCBE", "time": "2019-05-10T16:33:00Z", "temp": 68.8},
      {"station": "KCBE", "time": "2019-05-10T16:54:00Z", "temp": 70.2},
      {"station": "KCBE", "time": "2019-05-10T17:13:00Z", "temp": 70.2},
      {"station": "KCBE", "time": "2019-05-10T17:33:00Z", "temp": 70.5},
      {"station": "KCBE", "time": "2019-05-10T17:55:00Z", "temp": 71.2},
      {"station": "KCBE", "time": "2019-05-10T18:15:00Z", "temp": 71.3},
      {"station": "KCBE", "time": "2019-05-10T18:34:00Z", "temp": 72.6},
      {"station": "KCBE", "time": "2019-05-10T18:56:00Z", "temp": 73.8},
      {"station": "KCBE", "time": "2019-05-10T19:15:00Z", "temp": 74.5},
      {"station": "KCBE", "time": "2019-05-10T19:34:00Z", "temp": 73.7},
      {"station": "KCBE", "time": "2019-05-10T19:55:00Z", "temp": 75.2},
      {"station": "KCBE", "time": "2019-05-10T20:14:00Z", "temp": 75.8},
      {"station": "KCBE", "time": "2019-05-10T20:34:00Z", "temp": 75.8},
      {"station": "KCBE", "time": "2019-05-10T20:55:00Z", "temp": 75.9},
      {"station": "KCBE", "time": "2019-05-10T21:16:00Z", "temp": 75.3},
      {"station": "KCBE", "time": "2019-05-10T21:35:00Z", "temp": 74.9},
      {"station": "KCBE", "time": "2019-05-10T21:55:00Z", "temp": 75.8},
      {"station": "KCBE", "time": "2019-05-10T22:15:00Z", "temp": 75.1},
      {"station": "KCBE", "time": "2019-05-10T22:35:00Z", "temp": 74.9},
      {"station": "KCBE", "time": "2019-05-10T22:55:00Z", "temp": 74.1},
      {"station": "KCBE", "time": "2019-05-10T23:16:00Z", "temp": 73.0},
      {"station": "KCBE", "time": "2019-05-10T23:35:00Z", "temp": 71.4},
      {"station": "KCBE", "time": "2019-05-10T23:56:00Z", "temp": 69.3},
      {"station": "KCBE", "time": "2019-05-11T00:15:00Z", "temp": 68.9},
      {"station": "KCBE", "time": "2019-05-11T00:35:00Z", "temp": 66.1},
      {"station": "KCBE", "time": "2019-05-11T00:56:00Z", "temp": 64.1},
      {"station": "KCBE", "time": "2019-05-11T01:16:00Z", "temp": 63.8},
      {"station": "KCBE", "time": "2019-05-11T01:35:00Z", "temp": 60.8},
      {"station": "KCBE", "time": "2019-05-11T01:56:00Z", "temp": 58.7},
      {"station": "KCBE", "time": "2019-05-11T02:16:00Z", "temp": 55.8},
      {"station": "KCBE", "time": "2019-05-11T02:36:00Z", "temp": 56.1},
      {"station": "KCBE", "time": "2019-05-11T02:56:00Z", "temp": 53.3},
      {"station": "KCBE", "time": "2019-05-11T03:16:00Z", "temp": 51.7},
      {"station": "KCBE", "time": "2019-05-11T03:35:00Z", "temp": 51.3},
      {"station": "KCBE", "time": "2019-05-11T03:46:00Z", "temp": 50.7}
    ]
  },
  "encoding": {
    "y": {
      "field": "temp",
      "type": "quantitative",
      "scale": {"domain": [32.4, 78.9], "nice": false, "zero": false},
      "axis": {"title": "Temperature (F)", "values": [40, 50, 60, 70], "tickSize": 5, "labelPadding": 4, "titlePadding": 10}
    }
  },
  "layer": [
    {
      "mark": {"type": "line", "strokeWidth": 2, "clip": true},
      "encoding": {
        "x": {
          "field": "time",
          "type": "temporal",
          "scale": {
            "domain": [
              {"year": 2019, "month": 5, "date": 10, "hours": 4, "utc": true},
              {"year": 2019, "month": 5, "date": 11, "hours": 4, "utc": true}
            ]
          },
          "axis": {
            "title": "Date/Time (UTC)",
            "orient": "bottom",
            "values": [
              {"year": 2019, "month": 5, "date": 10, "hours": 6, "utc": true},
              {"year": 2019, "month": 5, "date": 10, "hours": 9, "utc": true},
              {"year": 2019, "month": 5, "date": 10, "hours": 12, "utc": true},
              {"year": 2019, "month": 5, "date": 10, "hours": 15, "utc": true},
              {"year": 2019, "month": 5, "date": 10, "hours": 18, "utc": true},
              {"year": 2019, "month": 5, "date": 10, "hours": 21, "utc": true},
              {"year": 2019, "month": 5, "date": 11, "hours": 0, "utc": true},
              {"year": 2019, "month": 5, "date": 11, "hours": 3, "utc": true}
            ],
            "labelExpr": "[utcFormat(datum.value, '%b %d'), utcFormat(datum.value, '%H:%M')]",
            "labelOverlap": false,
            "labelFlush": false,
            "labelAngle": 0,
            "labelAlign": "center",
            "labelLineHeight": 25,
            "labelPadding": 4,
            "tickSize": 5,
            "titlePadding": 6
          }
        },
        "color": {
          "field": "station",
          "type": "nominal",
          "scale": {"domain": ["DY007", "KW99", "DY004", "KCBE"], "range": ["#1f77b4", "#ff7f0e", "#2ca02c", "#d62728"]},
          "legend": {
            "title": null,
            "orient": "top-left",
            "offset": 12,
            "symbolType": "stroke",
            "symbolSize": 1700,
            "symbolStrokeWidth": 2,
            "labelFont": "DejaVu Sans",
            "labelFontSize": 20,
            "labelColor": "black",
            "labelOffset": 16,
            "rowPadding": -2,
            "padding": 5,
            "fillColor": "white",
            "strokeColor": "#cccccc",
            "cornerRadius": 4
          }
        }
      }
    },
    {
      "mark": {"type": "line", "strokeOpacity": 0},
      "encoding": {
        "detail": {"field": "station", "type": "nominal"},
        "x": {
          "field": "time",
          "type": "temporal",
          "axis": {
            "orient": "bottom",
            "title": null,
            "tickCount": 24,
            "labels": false,
            "grid": false,
            "domain": false,
            "tickSize": 3
          }
        }
      }
    }
  ],
  "resolve": {"axis": {"x": "independent"}}
}
